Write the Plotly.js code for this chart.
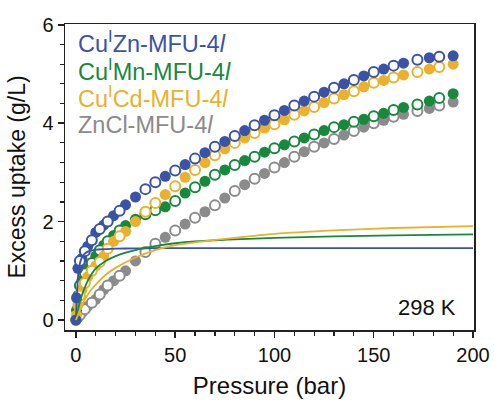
<!DOCTYPE html>
<html>
<head>
<meta charset="utf-8">
<script src="https://cdn.plot.ly/plotly-3.0.1.min.js"></script>
<style>html,body{margin:0;padding:0;background:#fff;}#chart{width:494px;height:403px;}</style>
</head>
<body>
<div id="chart"></div>
<script>
// Pressures (bar)
const pFilled = [0, 0.3, 1, 3, 6, 10, 14, 19, 25, 30, 45, 55, 65, 75, 85, 95, 105, 115, 125, 135, 145, 155, 165, 178, 190];
const pOpen = [2, 4.5, 8, 12, 16, 22, 35, 40, 50, 60, 70, 80, 90, 100, 110, 120, 130, 140, 150, 160, 172, 183];
const pFit = [0, 0.5, 1, 1.5, 2, 3, 4, 6, 8, 10, 15, 20, 30, 40, 50, 60, 80, 100, 130, 160, 200];

// Cu(I)Zn-MFU-4l
const znFilled = [0, 0.45, 1.05, 1.25, 1.5, 1.78, 1.93, 2.12, 2.34, 2.5, 2.92, 3.16, 3.4, 3.63, 3.85, 4.06, 4.26, 4.45, 4.63, 4.8, 4.96, 5.1, 5.22, 5.33, 5.37];
const znOpen = [1.2, 1.4, 1.62, 1.85, 2.0, 2.22, 2.66, 2.8, 3.04, 3.28, 3.52, 3.74, 3.96, 4.16, 4.36, 4.54, 4.72, 4.88, 5.04, 5.17, 5.29, 5.35];
const znFit = [0, 0.5, 0.85, 1.05, 1.15, 1.27, 1.33, 1.39, 1.41, 1.43, 1.44, 1.45, 1.455, 1.46, 1.46, 1.46, 1.46, 1.46, 1.46, 1.46, 1.46];

// Cu(I)Mn-MFU-4l
const mnFilled = [0, 0.2, 0.5, 0.8, 1.05, 1.3, 1.52, 1.72, 1.92, 2.05, 2.3, 2.58, 2.82, 3.05, 3.24, 3.41, 3.56, 3.7, 3.85, 3.97, 4.08, 4.2, 4.32, 4.45, 4.6];
const mnOpen = [0.7, 0.95, 1.16, 1.42, 1.6, 1.82, 2.15, 2.23, 2.42, 2.7, 2.95, 3.15, 3.32, 3.49, 3.63, 3.77, 3.92, 4.03, 4.14, 4.27, 4.38, 4.51];
const mnFit = [0, 0.1, 0.2, 0.29, 0.37, 0.5, 0.61, 0.8, 0.94, 1.05, 1.2, 1.3, 1.42, 1.5, 1.56, 1.6, 1.64, 1.67, 1.7, 1.72, 1.74];

// Cu(I)Cd-MFU-4l
const cdFilled = [0, 0.1, 0.3, 0.62, 0.88, 1.1, 1.3, 1.6, 1.8, 2.0, 2.55, 2.9, 3.2, 3.48, 3.7, 3.9, 4.07, 4.25, 4.42, 4.58, 4.74, 4.87, 4.98, 5.1, 5.2];
const cdOpen = [0.5, 0.75, 1.0, 1.18, 1.45, 1.7, 2.2, 2.38, 2.72, 3.05, 3.35, 3.6, 3.8, 3.98, 4.17, 4.33, 4.5, 4.65, 4.82, 4.93, 5.04, 5.14];
const cdFit = [0, 0.05, 0.1, 0.15, 0.2, 0.29, 0.38, 0.52, 0.63, 0.72, 0.92, 1.06, 1.27, 1.42, 1.52, 1.58, 1.67, 1.75, 1.82, 1.87, 1.91];

// ZnCl-MFU-4l
const clFilled = [0, 0.02, 0.05, 0.15, 0.28, 0.42, 0.62, 0.8, 1.0, 1.2, 1.68, 1.95, 2.2, 2.48, 2.75, 2.98, 3.2, 3.42, 3.6, 3.76, 3.92, 4.06, 4.18, 4.3, 4.43];
const clOpen = [0.1, 0.22, 0.35, 0.52, 0.7, 0.9, 1.38, 1.55, 1.82, 2.08, 2.33, 2.62, 2.87, 3.1, 3.32, 3.52, 3.68, 3.84, 4.0, 4.13, 4.25, 4.36];

const names = ["Cu<sup>I</sup>Zn-MFU-4<i>l</i>", "Cu<sup>I</sup>Mn-MFU-4<i>l</i>", "Cu<sup>I</sup>Cd-MFU-4<i>l</i>", "ZnCl-MFU-4<i>l</i>"];
const colors = ["#3a53a6", "#17893d", "#ebb02c", "#8b8b8b"];

const xTicks = [0, 50, 100, 150, 200];
const yTicks = [0, 2, 4, 6];

const F = "Liberation Sans, Arial, sans-serif";
const MS = 11;

function filled(y, c) {
  return {x: pFilled, y: y, mode: "markers", type: "scatter", showlegend: false, hoverinfo: "skip",
    marker: {size: MS, color: c, line: {width: 0}}};
}
function open(y, c) {
  return {x: pOpen, y: y, mode: "markers", type: "scatter", showlegend: false, hoverinfo: "skip",
    marker: {size: MS - 1, color: "#ffffff", line: {width: 2, color: c}}};
}
function fit(y, c) {
  return {x: pFit, y: y, mode: "lines", type: "scatter", showlegend: false, hoverinfo: "skip",
    line: {color: c, width: 1.8, shape: "spline", smoothing: 0.6}};
}

const data = [
  filled(clFilled, colors[3]), open(clOpen, colors[3]),
  filled(mnFilled, colors[1]), open(mnOpen, colors[1]),
  filled(cdFilled, colors[2]), open(cdOpen, colors[2]),
  filled(znFilled, colors[0]), open(znOpen, colors[0]),
  fit(znFit, colors[0]), fit(mnFit, colors[1]), fit(cdFit, colors[2])
];

const legendY = [0.941, 0.851, 0.760, 0.670];
const annotations = names.map((n, i) => ({
  text: n, xref: "paper", yref: "paper", x: 0.027, y: legendY[i],
  xanchor: "left", yanchor: "middle", showarrow: false,
  font: {family: F, size: 23.5, color: colors[i]}
}));
annotations.push({text: "298 K", xref: "paper", yref: "paper", x: 0.96, y: 0.075,
  xanchor: "right", yanchor: "middle", showarrow: false, font: {family: F, size: 22, color: "#111"}});

const layout = {
  width: 494, height: 403,
  margin: {l: 65, r: 20, t: 24, b: 73},
  paper_bgcolor: "#fff", plot_bgcolor: "#fff",
  font: {family: F, color: "#111"},
  xaxis: {
    range: [-5.5, 200.5], tickvals: xTicks, ticktext: xTicks.map(String),
    ticks: "outside", ticklen: 6, tickwidth: 1.5, tickcolor: "#222",
    showline: true, linecolor: "#222", linewidth: 1.5, mirror: true,
    showgrid: false, zeroline: false,
    tickfont: {family: F, size: 20, color: "#111"},
    minor: {dtick: 10, tick0: 0, ticks: "outside", ticklen: 4, tickwidth: 1.2, tickcolor: "#222", showgrid: false},
    title: {text: "Pressure (bar)", font: {family: F, size: 24, color: "#111"}, standoff: 12}
  },
  yaxis: {
    range: [-0.203, 6.016], tickvals: yTicks, ticktext: yTicks.map(String),
    ticks: "outside", ticklen: 6, tickwidth: 1.5, tickcolor: "#222",
    showline: true, linecolor: "#222", linewidth: 1.5, mirror: true,
    showgrid: false, zeroline: false,
    tickfont: {family: F, size: 20, color: "#111"},
    minor: {dtick: 0.4, tick0: 0, ticks: "outside", ticklen: 4, tickwidth: 1.2, tickcolor: "#222", showgrid: false},
    title: {text: "Excess uptake (g/L)", font: {family: F, size: 23, color: "#111"}, standoff: 10}
  },
  annotations: annotations
};

Plotly.newPlot("chart", data, layout, {displayModeBar: false, staticPlot: true});
</script>
</body>
</html>
